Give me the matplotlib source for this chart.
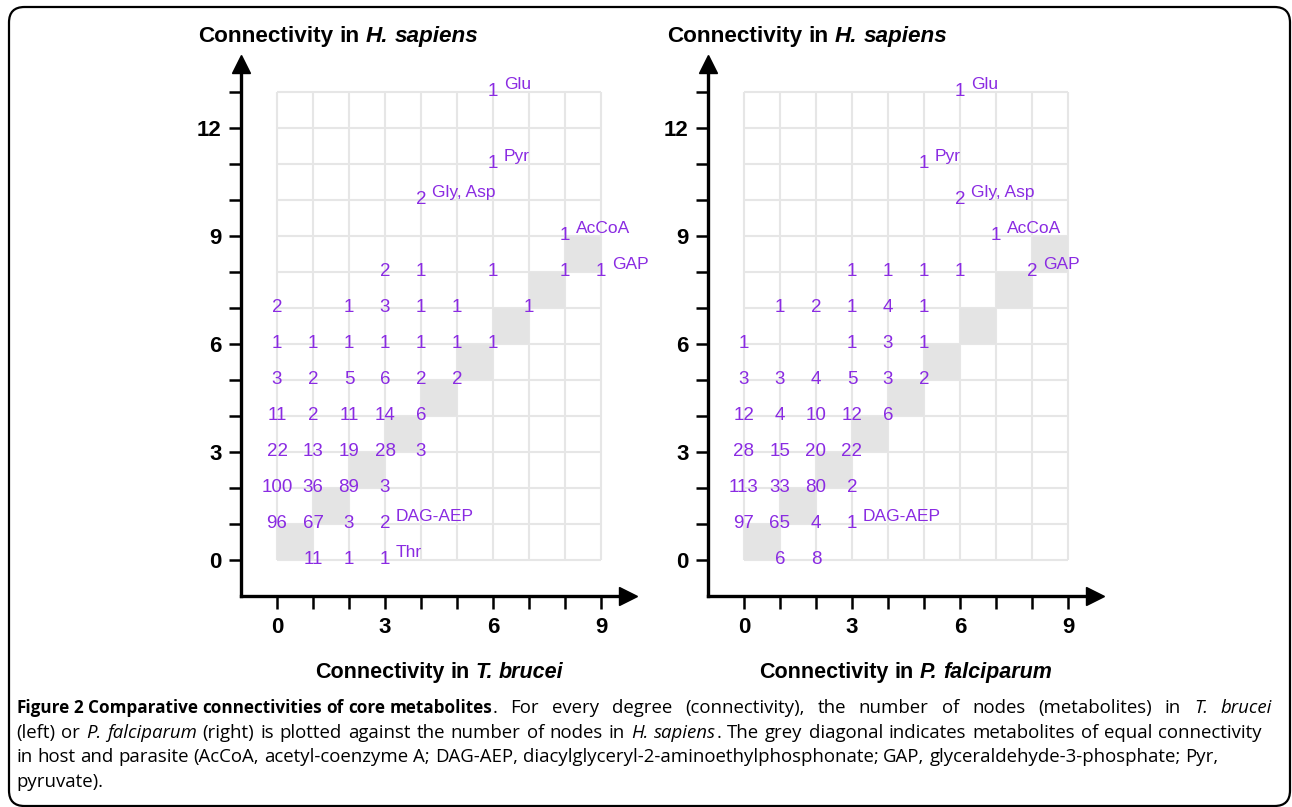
import matplotlib.pyplot as plt
from matplotlib.patches import FancyBboxPatch

plt.rcParams['font.family'] = ['Liberation Sans', 'DejaVu Sans']

# T. brucei vs H. sapiens (x = T. brucei degree, y = H. sapiens degree, n = count)
tb_x = [1, 2, 3, 0, 1, 2, 3, 0, 1, 2, 3, 0, 1, 2, 3, 4, 0, 1, 2, 3, 4,
        0, 1, 2, 3, 4, 5, 0, 1, 2, 3, 4, 5, 6, 0, 2, 3, 4, 5, 7,
        3, 4, 6, 8, 9, 8, 4, 6, 6]
tb_y = [0, 0, 0, 1, 1, 1, 1, 2, 2, 2, 2, 3, 3, 3, 3, 3, 4, 4, 4, 4, 4,
        5, 5, 5, 5, 5, 5, 6, 6, 6, 6, 6, 6, 6, 7, 7, 7, 7, 7, 7,
        8, 8, 8, 8, 8, 9, 10, 11, 13]
tb_n = [11, 1, 1, 96, 67, 3, 2, 100, 36, 89, 3, 22, 13, 19, 28, 3, 11, 2, 11, 14, 6,
        3, 2, 5, 6, 2, 2, 1, 1, 1, 1, 1, 1, 1, 2, 1, 3, 1, 1, 1,
        2, 1, 1, 1, 1, 1, 2, 1, 1]
tb_lab_x = [3, 3, 9, 8, 4, 6, 6]
tb_lab_y = [0, 1, 8, 9, 10, 11, 13]
tb_labels = ['Thr', 'DAG-AEP', 'GAP', 'AcCoA', 'Gly, Asp', 'Pyr', 'Glu']

# P. falciparum vs H. sapiens
pf_x = [1, 2, 0, 1, 2, 3, 0, 1, 2, 3, 0, 1, 2, 3, 0, 1, 2, 3, 4,
        0, 1, 2, 3, 4, 5, 0, 3, 4, 5, 1, 2, 3, 4, 5, 3, 4, 5, 6, 8, 7, 6, 5, 6]
pf_y = [0, 0, 1, 1, 1, 1, 2, 2, 2, 2, 3, 3, 3, 3, 4, 4, 4, 4, 4,
        5, 5, 5, 5, 5, 5, 6, 6, 6, 6, 7, 7, 7, 7, 7, 8, 8, 8, 8, 8, 9, 10, 11, 13]
pf_n = [6, 8, 97, 65, 4, 1, 113, 33, 80, 2, 28, 15, 20, 22, 12, 4, 10, 12, 6,
        3, 3, 4, 5, 3, 2, 1, 1, 3, 1, 1, 2, 1, 4, 1, 1, 1, 1, 1, 2, 1, 2, 1, 1]
pf_lab_x = [3, 8, 7, 6, 5, 6]
pf_lab_y = [1, 8, 9, 10, 11, 13]
pf_labels = ['DAG-AEP', 'GAP', 'AcCoA', 'Gly, Asp', 'Pyr', 'Glu']

x_ticks = list(range(10))
y_ticks = list(range(14))
diag = list(range(9))

purple = '#8a2be2'
W, H = 1292, 807
U = 36  # pixels per unit

fig = plt.figure(figsize=(W / 100, H / 100), dpi=100)
fig.patch.set_facecolor('white')
rend = fig.canvas.get_renderer()


def text_w(s, **props):
    t = fig.text(0, 0, s, **props)
    w = t.get_window_extent(rend).width
    t.remove()
    return w


def rich(x, y, parts, center=False, end=None, **props):
    # x, y in pixels from top-left; y is the baseline
    words = []
    for s, st in parts:
        p = dict(props, **st)
        sp = text_w('a a', **p) - text_w('aa', **p)
        stretch = st.get('fontweight') != 'bold'
        lead = len(s) - len(s.lstrip())
        if lead and words:
            w0 = words[-1]
            words[-1] = (w0[0], w0[1], w0[2] + lead * sp, w0[3] or stretch)
        toks = s.split()
        for i, tok in enumerate(toks):
            last = i == len(toks) - 1
            gap = (len(s) - len(s.rstrip())) * sp if last else sp
            words.append((tok, p, gap, stretch and gap > 0))
    widths = [text_w(w[0], **w[1]) for w in words]
    total = sum(widths) + sum(w[2] for w in words[:-1])
    extra = 0.0
    if end is not None:
        n = sum(1 for w in words[:-1] if w[3])
        if n:
            extra = (end - x - total) / n
        total = end - x
    cur = x - total / 2 if center else x
    for (tok, p, gap, st), wd in zip(words, widths):
        fig.text(cur / W, (H - y) / H, tok, va='baseline', ha='left', **p)
        cur += wd + gap + (extra if st else 0)


def panel(x0_px, xs, ys, ns, lx, ly, labs):
    ax = fig.add_axes([(x0_px - 2 * U) / W, 139 / H, 13.5 * U / W, 17.5 * U / H])
    ax.set_xlim(-2, 11.5)
    ax.set_ylim(-3, 14.5)
    ax.patch.set_visible(False)
    for s in ['top', 'right']:
        ax.spines[s].set_visible(False)
    ax.spines['left'].set_position(('data', -1))
    ax.spines['bottom'].set_position(('data', -1))
    ax.spines['left'].set_bounds(-1, 13.75)
    ax.spines['bottom'].set_bounds(-1, 9.75)
    for s in ['left', 'bottom']:
        ax.spines[s].set_linewidth(2.4)
    ax.plot([-1], [13.78], marker='^', ms=13, color='black', clip_on=False)
    ax.plot([9.75], [-1], marker='>', ms=13, color='black', clip_on=False)

    ax.set_xticks(x_ticks)
    ax.set_xticklabels([str(v) if v % 3 == 0 else '' for v in x_ticks],
                       fontweight='bold', fontsize=16)
    ax.set_yticks(y_ticks)
    ax.set_yticklabels([str(v) if v % 3 == 0 else '' for v in y_ticks],
                       fontweight='bold', fontsize=16)
    ax.tick_params(axis='both', direction='out', length=9, width=1.8, colors='black')
    ax.tick_params(axis='x', pad=6)
    ax.tick_params(axis='y', pad=5)

    ax.vlines(x_ticks, 0, 13, color='#e6e6e6', lw=1.5, zorder=1)
    ax.hlines(y_ticks, 0, 9, color='#e6e6e6', lw=1.5, zorder=1)
    ax.bar([d + 0.5 for d in diag], 1, width=1, bottom=diag,
           color='#e4e4e4', zorder=2)

    for x, y, n in zip(xs, ys, ns):
        ax.text(x, y, str(n), ha='center', va='center', color=purple,
                fontsize=13.5, zorder=3)
    for x, y, s in zip(lx, ly, labs):
        ax.text(x + 0.3, y + 0.22, s, ha='left', va='center', color=purple,
                fontsize=12.5, zorder=3)
    return ax


panel(277, tb_x, tb_y, tb_n, tb_lab_x, tb_lab_y, tb_labels)
panel(744, pf_x, pf_y, pf_n, pf_lab_x, pf_lab_y, pf_labels)

fam = ['Liberation Sans', 'DejaVu Sans']
b = dict(fontweight='bold')
bi = dict(fontweight='bold', fontstyle='italic')
rich(198, 42, [('Connectivity in ', b), ('H. sapiens', bi)], fontsize=16.2, family=fam)
rich(667, 42, [('Connectivity in ', b), ('H. sapiens', bi)], fontsize=16.2, family=fam)
rich(277 + 4.5 * U, 678, [('Connectivity in ', b), ('T. brucei', bi)],
     center=True, fontsize=15.5, family=fam)
rich(744 + 4.5 * U, 678, [('Connectivity in ', b), ('P. falciparum', bi)],
     center=True, fontsize=15.5, family=fam)

cfont = dict(fontsize=13.4, family=['Open Sans', 'DejaVu Sans'])
n = dict(fontweight='normal')
it = dict(fontstyle='italic')
bo = dict(fontweight='bold', fontsize=12.3)
rich(16, 713, [('Figure 2 Comparative connectivities of core metabolites', bo),
               ('. For every degree (connectivity), the number of nodes (metabolites) in ', n),
               ('T. brucei', it)], end=1272, **cfont)
rich(16, 738, [('(left) or ', n), ('P. falciparum', it),
               (' (right) is plotted against the number of nodes in ', n),
               ('H. sapiens', it),
               ('. The grey diagonal indicates metabolites of equal connectivity', n)],
     end=1262, **cfont)
rich(16, 762, [('in host and parasite (AcCoA, acetyl-coenzyme A; DAG-AEP, '
                'diacylglyceryl-2-aminoethylphosphonate; GAP, glyceraldehyde-3-phosphate; Pyr,', n)],
     **cfont)
rich(16, 787, [('pyruvate).', n)], **cfont)

frame = FancyBboxPatch((9 / W, 1 / H), 1281 / W, 799 / H,
                       boxstyle='round,pad=0,rounding_size=0.012',
                       transform=fig.transFigure, fill=False,
                       edgecolor='black', lw=1.6, mutation_aspect=W / H)
fig.patches.append(frame)

fig.savefig('out.png', dpi=100)
